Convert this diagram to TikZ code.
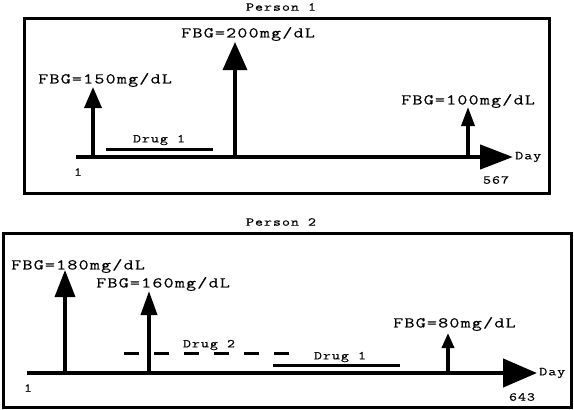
\documentclass[tikz,border=0pt]{standalone}
\usepackage{fontspec}
\usepackage{tikz}
\usetikzlibrary{arrows.meta}
\setmonofont[FakeStretch=1.3, LetterSpace=8, FakeBold=0.4]{Latin Modern Mono}

\begin{document}
\begin{tikzpicture}[
    x=1pt, y=-1pt,
    every node/.style={font=\ttfamily\fontsize{12}{14}\selectfont, inner sep=1pt},
    val/.style={anchor=west, font=\ttfamily\fontsize{15}{17}\selectfont},
    frame/.style={draw, line width=3pt},
    ax/.style={line width=4.5pt},
    meas/.style={line width=3.5pt},
    fbghead/.style 2 args={-{Triangle[length=#1, width=#2]}},
    drug/.style={line width=3pt},
  ]
    \useasboundingbox (0,0) rectangle (574,410);

    % Person 1
    \node (t1) at (281,7) {Person 1};
    \draw[frame] (24,18) rectangle (549,193);
    \coordinate (s1) at (76,157);
    \coordinate (e1) at (513,157);
    \draw[ax, fbghead={33pt}{24pt}] (s1) -- (e1);
    \node[anchor=west] (day1) at (514,157) {Day};
    \node (one1) at (78,172) {1};
    \node (end1) at (496,180) {567};

    \coordinate (a1) at (93,157);  \coordinate (a1t) at (93,87);
    \coordinate (a2) at (235,157); \coordinate (a2t) at (235,42);
    \coordinate (a3) at (468,157); \coordinate (a3t) at (468,107);
    \draw[meas, fbghead={21pt}{17pt}] (a1) -- (a1t);
    \draw[meas, fbghead={28pt}{24pt}] (a2) -- (a2t);
    \draw[meas, fbghead={19pt}{13pt}] (a3) -- (a3t);
    \node[val] (v1) at (37,80)  {FBG=150mg/dL};
    \node[val] (v2) at (180,34) {FBG=200mg/dL};
    \node[val] (v3) at (400,101) {FBG=100mg/dL};

    \coordinate (d1s) at (106,149); \coordinate (d1e) at (213,149);
    \draw[drug] (d1s) -- (d1e);
    \node (d1) at (159,140) {Drug 1};

    % Person 2
    \node (t2) at (281,222) {Person 2};
    \draw[frame] (3,233) rectangle (571,407);
    \coordinate (s2) at (27,373);
    \coordinate (e2) at (537,373);
    \draw[ax, fbghead={34pt}{28pt}] (s2) -- (e2);
    \node[anchor=west] (day2) at (538,373) {Day};
    \node (one2) at (28,388) {1};
    \node (end2) at (522,397) {643};

    \coordinate (b1) at (65,373);  \coordinate (b1t) at (65,270);
    \coordinate (b2) at (149,373); \coordinate (b2t) at (149,291);
    \coordinate (b3) at (448,373); \coordinate (b3t) at (448,333);
    \draw[meas, fbghead={27pt}{20pt}] (b1) -- (b1t);
    \draw[meas, fbghead={24pt}{16pt}] (b2) -- (b2t);
    \draw[meas, fbghead={15pt}{12pt}] (b3) -- (b3t);
    \node[val] (w1) at (10,266)  {FBG=180mg/dL};
    \node[val] (w2) at (95,284)  {FBG=160mg/dL};
    \node[val] (w3) at (392,324) {FBG=80mg/dL};

    \coordinate (d2s) at (124,353); \coordinate (d2e) at (290,353);
    \draw[drug, dash pattern=on 15pt off 15pt] (d2s) -- (d2e);
    \node (d2) at (209,345) {Drug 2};
    \coordinate (d3s) at (273,365); \coordinate (d3e) at (400,365);
    \draw[drug] (d3s) -- (d3e);
    \node (d3) at (340,357) {Drug 1};
  \end{tikzpicture}
\end{document}
